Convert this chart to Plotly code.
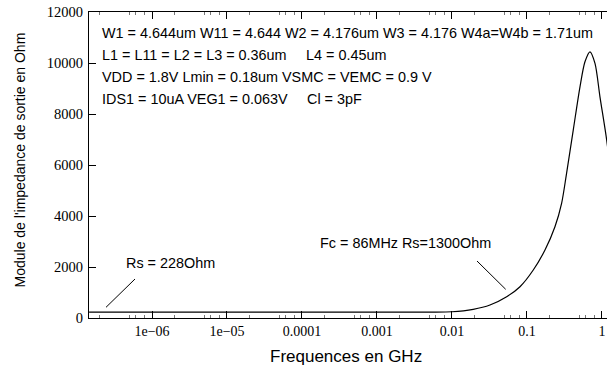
import plotly.graph_objects as go

# ---- data ----
freq_ghz = [1.45e-7, 1e-6, 1e-5, 1e-4, 1e-3, 0.00509, 0.01, 0.0192, 0.0321,
            0.0536, 0.0807, 0.1213, 0.1738, 0.236, 0.290, 0.336, 0.414,
            0.509, 0.593, 0.692, 0.807, 0.940, 1.156, 1.3]
impedance_ohm = [228, 228, 228, 228, 229, 232, 245, 341, 510,
                 835, 1227, 1882, 2666, 3579, 4508, 5645, 7370,
                 9067, 10047, 10439, 9984, 8675, 6978, 5700]

x_tick_vals = [1e-6, 1e-5, 1e-4, 1e-3, 1e-2, 1e-1, 1]
x_tick_text = ["1e\u221206", "1e\u221205", "0.0001", "0.001", "0.01", "0.1", "1"]
y_tick_vals = [0, 2000, 4000, 6000, 8000, 10000, 12000]
y_tick_text = ["0", "2000", "4000", "6000", "8000", "10000", "12000"]

info_lines = [
    "W1 = 4.644um W11 = 4.644 W2 = 4.176um W3 = 4.176 W4a=W4b = 1.71um",
    "L1 = L11 = L2 = L3 = 0.36um",
    "VDD = 1.8V Lmin = 0.18um VSMC = VEMC = 0.9 V",
    "IDS1 = 10uA VEG1 = 0.063V",
]
info_extra = ["L4 = 0.45um", "Cl = 3pF"]
label_rs = "Rs = 228Ohm"
label_fc = "Fc = 86MHz Rs=1300Ohm"
x_title = "Frequences en GHz"
y_title = "Module de l'impedance de sortie en Ohm"

# minor tick positions (2,5,6,8 per decade)
minor_vals = [m * 10.0 ** e for e in range(-7, 1) for m in (2, 5, 6, 8)]

# ---- layout geometry (pixels) ----
W, H = 607, 367
L, R, T, B = 89, 0, 12, 49
PW, PH = W - L - R, H - T - B


def px(xp):
    return (xp - L) / PW


def py(yp):
    return (H - B - yp) / PH


SANS = "Liberation Sans, Arial, sans-serif"
SERIF = "Liberation Serif, Times New Roman, serif"

fig = go.Figure()
fig.add_trace(go.Scatter(x=freq_ghz, y=impedance_ohm, mode="lines",
                         line=dict(color="black", width=1.2, shape="spline", smoothing=0.8),
                         showlegend=False, hoverinfo="x+y"))

fig.update_layout(
    width=W, height=H, margin=dict(l=L, r=R, t=T, b=B, pad=0),
    paper_bgcolor="white", plot_bgcolor="white", showlegend=False,
    xaxis=dict(type="log", range=[-6.84, 0.067], tickvals=x_tick_vals, ticktext=x_tick_text,
               ticks="inside", ticklen=7, tickwidth=1, tickcolor="black",
               showline=True, linecolor="black", linewidth=1.2, mirror="ticks",
               showgrid=False, zeroline=False,
               tickfont=dict(family=SERIF, size=14, color="black"),
               minor=dict(tickvals=minor_vals, ticks="inside", ticklen=3,
                          tickcolor="#777", tickwidth=1, showgrid=False)),
    yaxis=dict(range=[0, 12000], tickvals=y_tick_vals, ticktext=y_tick_text,
               ticks="inside", ticklen=7, tickwidth=1, tickcolor="black",
               showline=True, linecolor="black", linewidth=1.2, mirror=False,
               showgrid=False, zeroline=False, ticklabelstandoff=2,
               tickfont=dict(family=SERIF, size=14.5, color="black")),
)

ann = []
for yp, txt in zip([33.3, 55, 76.7, 99.3], info_lines):
    ann.append(dict(x=px(100), y=py(yp), text=txt))
ann.append(dict(x=px(304), y=py(55), text=info_extra[0]))
ann.append(dict(x=px(305), y=py(99.3), text=info_extra[1]))
ann.append(dict(x=px(124), y=py(263.3), text=label_rs))
ann.append(dict(x=px(318), y=py(243.3), text=label_fc))
for a in ann:
    a.update(xref="paper", yref="paper", xanchor="left", yanchor="middle",
             showarrow=False, font=dict(family=SANS, size=14.4, color="black"))
ann.append(dict(x=px(346), y=py(356.7), xref="paper", yref="paper", text=x_title,
                xanchor="center", yanchor="middle", showarrow=False,
                font=dict(family=SANS, size=17, color="black")))
ann.append(dict(x=px(19.5), y=py(160), xref="paper", yref="paper", text=y_title,
                xanchor="center", yanchor="middle", showarrow=False, textangle=-90,
                font=dict(family=SANS, size=14, color="black")))
fig.update_layout(annotations=ann)

for (x0, y0, x1, y1) in [(106, 307.3, 135, 279), (477, 261, 505.7, 289.3)]:
    fig.add_shape(type="line", xref="paper", yref="paper",
                  x0=px(x0), y0=py(y0), x1=px(x1), y1=py(y1),
                  line=dict(color="black", width=1))

fig.write_html("out.html")
